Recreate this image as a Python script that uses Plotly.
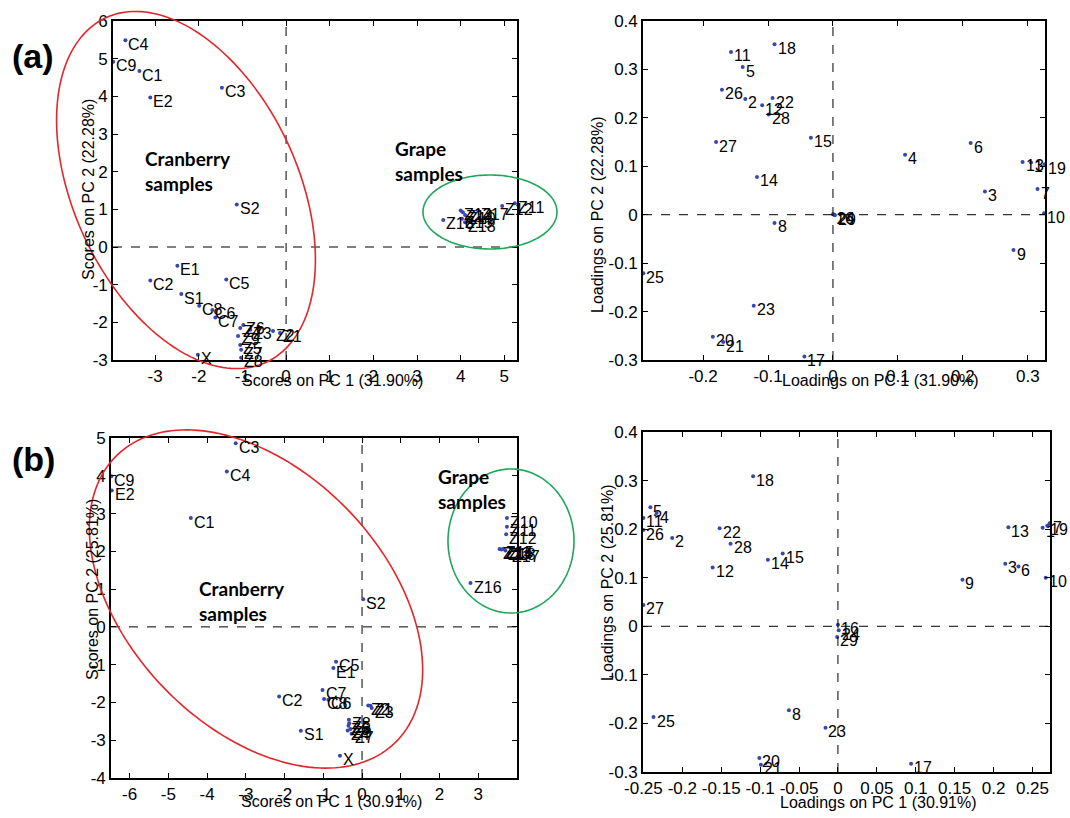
import numpy as np
import plotly.graph_objects as go

W, H = 1070, 818

# ---------------- data ----------------
# (a) scores
a_sc_lab = ["C4", "C9", "C1", "E2", "C3", "S2", "E1", "C2", "C5", "S1", "C8", "C6", "C7", "X",
            "Z1", "Z2", "Z3", "Z4", "Z5", "Z6", "Z7", "Z8", "Z9",
            "Z10", "Z11", "Z12", "Z13", "Z14", "Z15", "Z16", "Z17", "Z18"]
a_sc_x = [-3.68, -3.96, -3.36, -3.11, -1.47, -1.13, -2.49, -3.11, -1.37, -2.40, -1.99, -1.69, -1.62, -2.02,
          -0.14, -0.30, -0.82, -1.05, -1.05, -0.98, -1.03, -1.03, -1.10,
          4.10, 5.24, 4.95, 4.00, 4.05, 4.03, 3.60, 4.40, 4.10]
a_sc_y = [5.49, 4.92, 4.67, 3.97, 4.23, 1.13, -0.50, -0.89, -0.86, -1.25, -1.56, -1.67, -1.87, -2.86,
          -2.28, -2.23, -2.20, -2.15, -2.60, -2.07, -2.73, -2.94, -2.36,
          0.85, 1.16, 1.09, 0.97, 0.92, 0.75, 0.72, 0.97, 0.66]

# (a) loadings
a_ld_lab = [str(i) for i in range(1, 30)]
a_ld_x = [0.305, -0.135, 0.234, 0.111, -0.139, 0.212, 0.315, -0.090, 0.278, 0.325,
          -0.157, -0.109, 0.292, -0.117, -0.034, 0.000, -0.044, -0.090, 0.326, -0.185,
          -0.169, -0.093, -0.122, 0.002, -0.292, -0.171, -0.180, -0.099, 0.003]
a_ld_y = [0.108, 0.239, 0.048, 0.124, 0.305, 0.148, 0.053, -0.017, -0.073, 0.003,
          0.336, 0.226, 0.109, 0.078, 0.159, 0.001, -0.293, 0.352, 0.104, -0.252,
          -0.263, 0.241, -0.188, 0.000, -0.121, 0.258, 0.150, 0.207, -0.001]

# (b) scores
b_sc_lab = ["C3", "C4", "C9", "E2", "C1", "S2", "C5", "E1", "C7", "C8", "C6", "C2", "S1", "X",
            "Z1", "Z2", "Z3", "Z4", "Z5", "Z6", "Z7", "Z8", "Z9",
            "Z10", "Z11", "Z12", "Z13", "Z14", "Z15", "Z16", "Z17", "Z18"]
b_sc_x = [-3.26, -3.49, -6.47, -6.46, -4.42, 0.03, -0.67, -0.74, -1.02, -0.98, -0.87, -2.14, -1.58, -0.57,
          0.22, 0.16, 0.25, -0.37, -0.33, -0.35, -0.27, -0.34, -0.30,
          3.74, 3.74, 3.72, 3.55, 3.60, 3.65, 2.80, 3.80, 3.70]
b_sc_y = [4.86, 4.11, 3.99, 3.61, 2.88, 0.73, -0.92, -1.09, -1.67, -1.91, -1.93, -1.84, -2.75, -3.41,
          -2.09, -2.08, -2.15, -2.74, -2.55, -2.62, -2.83, -2.46, -2.70,
          2.88, 2.65, 2.45, 2.06, 2.05, 2.07, 1.16, 1.96, 2.02]

# (b) loadings
b_ld_lab = [str(i) for i in range(1, 30)]
b_ld_x = [0.263, -0.213, 0.215, -0.233, -0.241, 0.232, 0.272, -0.063, 0.160, 0.267,
          -0.250, -0.161, 0.219, -0.090, -0.071, 0.000, 0.094, -0.109, 0.269, -0.101,
          -0.099, -0.152, -0.016, 0.001, -0.237, -0.250, -0.250, -0.138, -0.001]
b_ld_y = [0.203, 0.182, 0.129, 0.233, 0.245, 0.123, 0.212, -0.173, 0.096, 0.100,
          0.223, 0.121, 0.204, 0.137, 0.150, 0.003, -0.283, 0.309, 0.207, -0.271,
          -0.285, 0.202, -0.209, -0.008, -0.187, 0.198, 0.044, 0.170, -0.022]

# tick values
a_sc_xt = [-3, -2, -1, 0, 1, 2, 3, 4, 5]
a_sc_yt = [-3, -2, -1, 0, 1, 2, 3, 4, 5, 6]
a_ld_xt = [-0.2, -0.1, 0, 0.1, 0.2, 0.3]
ld_yt = [-0.3, -0.2, -0.1, 0, 0.1, 0.2, 0.3, 0.4]
b_sc_xt = [-6, -5, -4, -3, -2, -1, 0, 1, 2, 3]
b_sc_yt = [-4, -3, -2, -1, 0, 1, 2, 3, 4, 5]
b_ld_xt = [-0.25, -0.2, -0.15, -0.1, -0.05, 0, 0.05, 0.1, 0.15, 0.2, 0.25]

# ---------------- layout helpers ----------------
def px(x):
    return x / W

def py(y):
    return 1 - y / H

panels = {
    "A_L": ((113, 517, 21, 360), [-3.965, 5.29], [-3, 6]),
    "A_R": ((643, 1045, 21, 360), [-0.2925, 0.3265], [-0.3, 0.4]),
    "B_L": ((111, 517, 438, 778), [-6.48, 4.0], [-4, 5]),
    "B_R": ((643, 1050, 432, 772), [-0.2505, 0.2725], [-0.3, 0.4]),
}
axis_ids = {"A_L": ("x", "y"), "A_R": ("x2", "y2"), "B_L": ("x3", "y3"), "B_R": ("x4", "y4")}
ticks = {"A_L": (a_sc_xt, a_sc_yt), "A_R": (a_ld_xt, ld_yt),
         "B_L": (b_sc_xt, b_sc_yt), "B_R": (b_ld_xt, ld_yt)}
data = {"A_L": (a_sc_lab, a_sc_x, a_sc_y), "A_R": (a_ld_lab, a_ld_x, a_ld_y),
        "B_L": (b_sc_lab, b_sc_x, b_sc_y), "B_R": (b_ld_lab, b_ld_x, b_ld_y)}

FONT = "Liberation Sans, Arial, sans-serif"
DOT = "#3747b0"

fig = go.Figure()
annotations = []
shapes = []
layout = {}

for name, ((x0, x1, y0, y1), xr, yr) in panels.items():
    xa, ya = axis_ids[name]
    xkey = "xaxis" + xa[1:]
    ykey = "yaxis" + ya[1:]
    xt, yt = ticks[name]
    common = dict(showline=True, mirror="ticks", linecolor="black", linewidth=1.6,
                  ticks="inside", ticklen=5, tickcolor="black", tickwidth=1,
                  showgrid=False, zeroline=False, automargin=False,
                  tickfont=dict(family=FONT, size=17, color="black"))
    layout[xkey] = dict(domain=[px(x0), px(x1)], range=xr, anchor=ya, tickvals=xt,
                        ticktext=[("%g" % v) for v in xt], **common)
    layout[ykey] = dict(domain=[py(y1), py(y0)], range=yr, anchor=xa, tickvals=yt,
                        ticktext=[("%g" % v) for v in yt], **common)
    lab, xs, ys = data[name]
    fig.add_trace(go.Scatter(x=xs, y=ys, mode="markers", xaxis=xa, yaxis=ya,
                             marker=dict(color=DOT, size=4), cliponaxis=False,
                             showlegend=False, hoverinfo="text", text=lab))
    for t, xv, yv in zip(lab, xs, ys):
        annotations.append(dict(x=xv, y=yv, xref=xa, yref=ya, text=t, showarrow=False,
                                xanchor="left", yanchor="middle", xshift=1, yshift=-4,
                                font=dict(family=FONT, size=16, color="black")))
    shapes.append(dict(type="line", xref=xa, yref=ya + " domain", x0=0, x1=0, y0=0, y1=1,
                       line=dict(color="black", width=1, dash="dash")))
    shapes.append(dict(type="line", xref=xa + " domain", yref=ya, x0=0, x1=1, y0=0, y1=0,
                       line=dict(color="black", width=1, dash="dash")))


def ellipse(cx, cy, a, b, theta_deg, color):
    t = np.linspace(0, 2 * np.pi, 181)
    th = np.radians(theta_deg)
    ex = cx + a * np.cos(t) * np.cos(th) - b * np.sin(t) * np.sin(th)
    ey = cy + a * np.cos(t) * np.sin(th) + b * np.sin(t) * np.cos(th)
    path = "M " + " L ".join("%.5f,%.5f" % (px(u), py(v)) for u, v in zip(ex, ey)) + " Z"
    return dict(type="path", xref="paper", yref="paper", path=path,
                line=dict(color=color, width=1.6))

RED = "#e3262b"
GREEN = "#20a65a"
shapes.append(ellipse(186, 190, 190, 112, 65, RED))
shapes.append(ellipse(490, 212, 67, 37, 0, GREEN))
shapes.append(ellipse(256, 599, 200, 128, 46, RED))
shapes.append(ellipse(511, 541, 63, 72, 0, GREEN))


def text_px(x, y, text, size=16, bold=False, angle=0, xanchor="center", family=FONT, align="center"):
    annotations.append(dict(x=px(x), y=py(y), xref="paper", yref="paper",
                            text=("<b>%s</b>" % text) if bold else text,
                            showarrow=False, xanchor=xanchor, yanchor="middle", textangle=angle, align=align,
                            font=dict(family=family, size=size, color="black")))

GROUP_FONT = "Lato, Open Sans, sans-serif"
text_px(143, 171, "Cranberry<br>samples", size=19, bold=True, xanchor="left", family=GROUP_FONT, align="left")
text_px(393, 161, "Grape<br>samples", size=19, bold=True, xanchor="left", family=GROUP_FONT, align="left")
text_px(197, 601, "Cranberry<br>samples", size=19, bold=True, xanchor="left", family=GROUP_FONT, align="left")
text_px(436, 489, "Grape<br>samples", size=19, bold=True, xanchor="left", family=GROUP_FONT, align="left")

text_px(332, 381, "Scores on PC 1 (31.90%)")
text_px(88, 190, "Scores on PC 2 (22.28%)", angle=-90)
text_px(880, 381, "Loadings on PC 1 (31.90%)")
text_px(598, 215, "Loadings on PC 2 (22.28%)", angle=-90)
text_px(331, 801, "Scores on PC 1 (30.91%)")
text_px(92, 590, "Scores on PC 2 (25.81%)", angle=-90)
text_px(878, 802, "Loadings on PC 1 (30.91%)")
text_px(607, 583, "Loadings on PC 2 (25.81%)", angle=-90)

text_px(10, 56, "(a)", size=34, bold=True, xanchor="left")
text_px(10, 459, "(b)", size=34, bold=True, xanchor="left")

fig.update_layout(width=W, height=H, autosize=False, margin=dict(l=0, r=0, t=0, b=0, autoexpand=False),
                  paper_bgcolor="white", plot_bgcolor="white", showlegend=False,
                  annotations=annotations, shapes=shapes, **layout)

fig.write_html("out.html", config={"displayModeBar": False},
               post_script="document.body.style.margin='0px';document.body.style.overflow='hidden';")
